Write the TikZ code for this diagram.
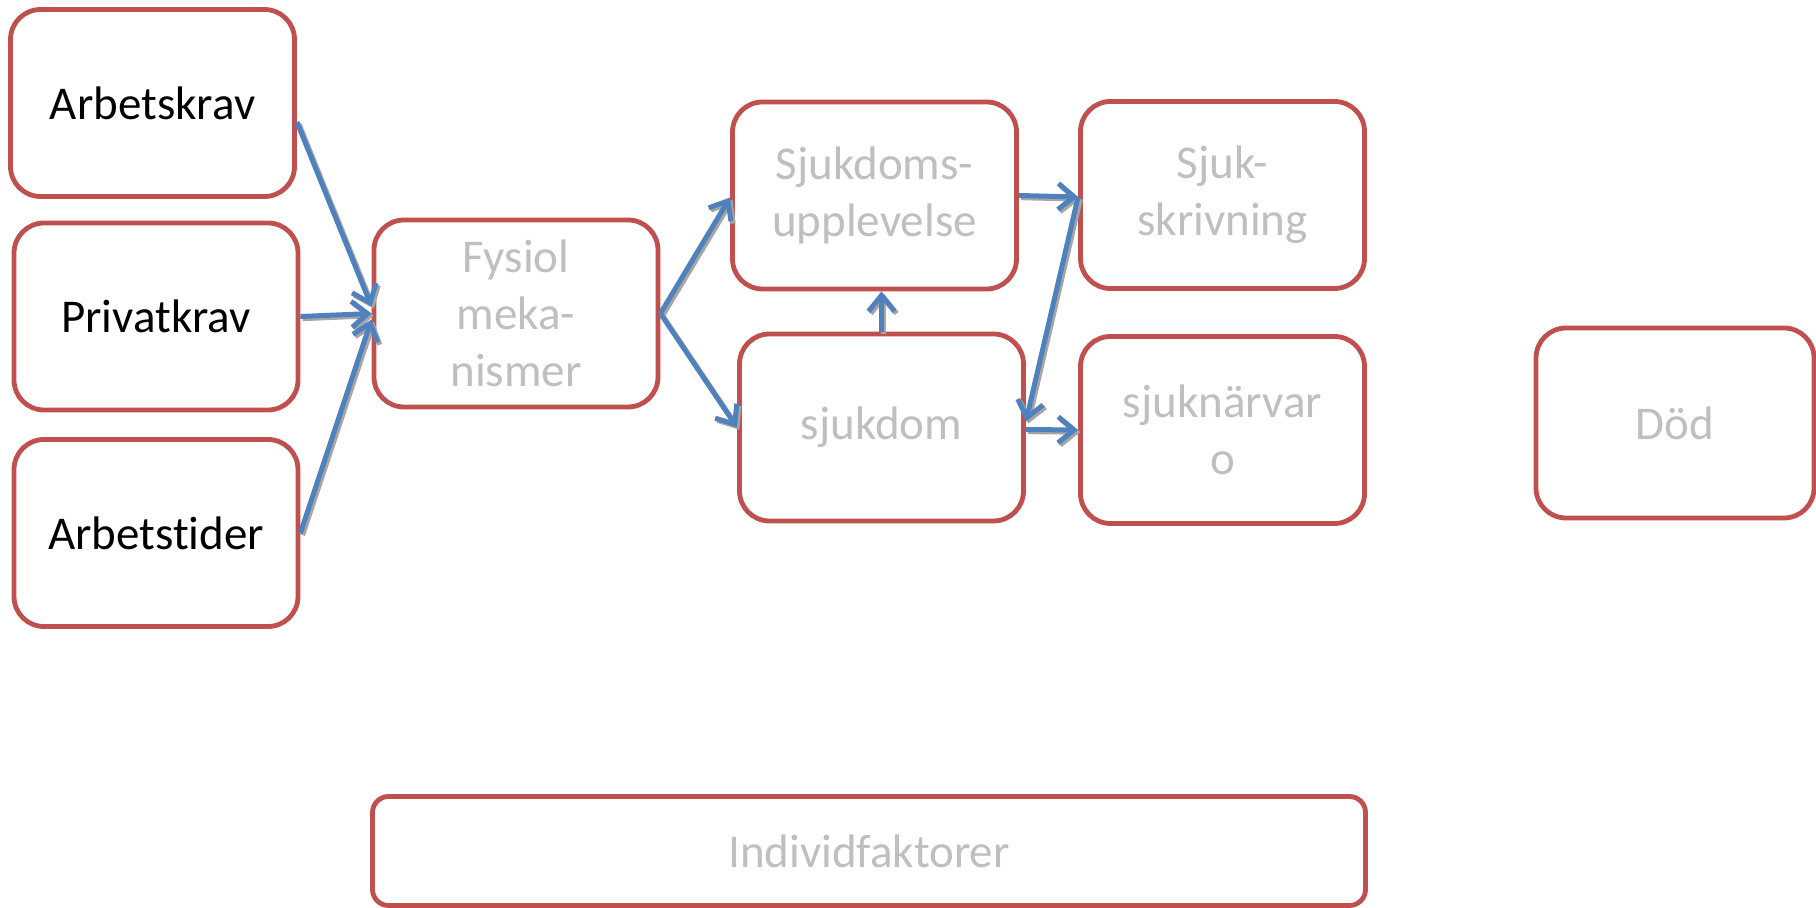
\documentclass[tikz,border=0pt]{standalone}
\usepackage{fontspec}
\setmainfont{Carlito}[Ligatures={CommonOff,ContextualOff}, Contextuals=AlternateOff]
\usetikzlibrary{arrows.meta}
\definecolor{boxred}{HTML}{C0504D}
\definecolor{arrowblue}{HTML}{4F81BD}
\definecolor{txtgray}{HTML}{BFBFBF}
\tikzset{
  box/.style={draw=boxred, line width=2.4pt, rounded corners=15pt, fill=white,
    minimum width=142pt, minimum height=93.5pt, inner sep=0pt, align=center,
    font=\fontsize{23.5}{28.5}\selectfont, text=txtgray},
  blackbox/.style={box, text=black},
  tipstyle/.style={-{Straight Barb[length=8pt,width=13pt]}},
  connshadow/.style={draw=black!35, line width=2.5pt, tipstyle,
    transform canvas={shift={(1.1pt,-1.1pt)}}},
  conn/.style={draw=arrowblue, line width=2.5pt, tipstyle}
}
\newcommand\myconn[2]{\draw[connshadow] #1 -- #2; \draw[conn] #1 -- #2;}
\begin{document}
\begin{tikzpicture}[x=0.5pt,y=-0.5pt]
\useasboundingbox (0,0) rectangle (1816,908);
\node[blackbox] (ak) at (152.5,103) {Arbetskrav};
\node[blackbox] (pk) at (156,316.5) {Privatkrav};
\node[blackbox] (at) at (156,533) {Arbetstider};
\node[box] (fy) at (516,313.5) {Fysiol\\meka-\\nismer};
\node[box] (sjup) at (874.5,195.5) {Sjukdoms-\\upplevelse};
\node[box] (sjd) at (881.5,427.5) {sjukdom};
\node[box] (ssk) at (1222.5,195) {Sjuk-\\skrivning};
\node[box] (snv) at (1222.5,430) {sjuknärvar\\o};
\node[box, minimum width=139pt, minimum height=95pt] (dod) at (1675,423) {Död};
\node[box, minimum width=496.5pt, minimum height=54.5pt, rounded corners=8pt] (ind) at (869,851) {Individfaktorer};

\myconn{([yshift=-9.5pt]ak.east)}{([yshift=3.5pt]fy.west)}
\myconn{(pk.east)}{(fy.west)}
\myconn{(at.east)}{([yshift=-3pt]fy.west)}
\myconn{(fy.east)}{([yshift=-1pt]sjup.west)}
\myconn{(fy.east)}{(sjd.west)}
\myconn{(sjd.north)}{(sjd.north |- sjup.south)}
\myconn{(sjup.east)}{([yshift=-1pt]ssk.west)}
\myconn{([yshift=-1pt]ssk.west)}{([yshift=3pt]sjd.east)}
\myconn{([yshift=-1pt]sjd.east)}{(snv.west)}
\end{tikzpicture}
\end{document}
